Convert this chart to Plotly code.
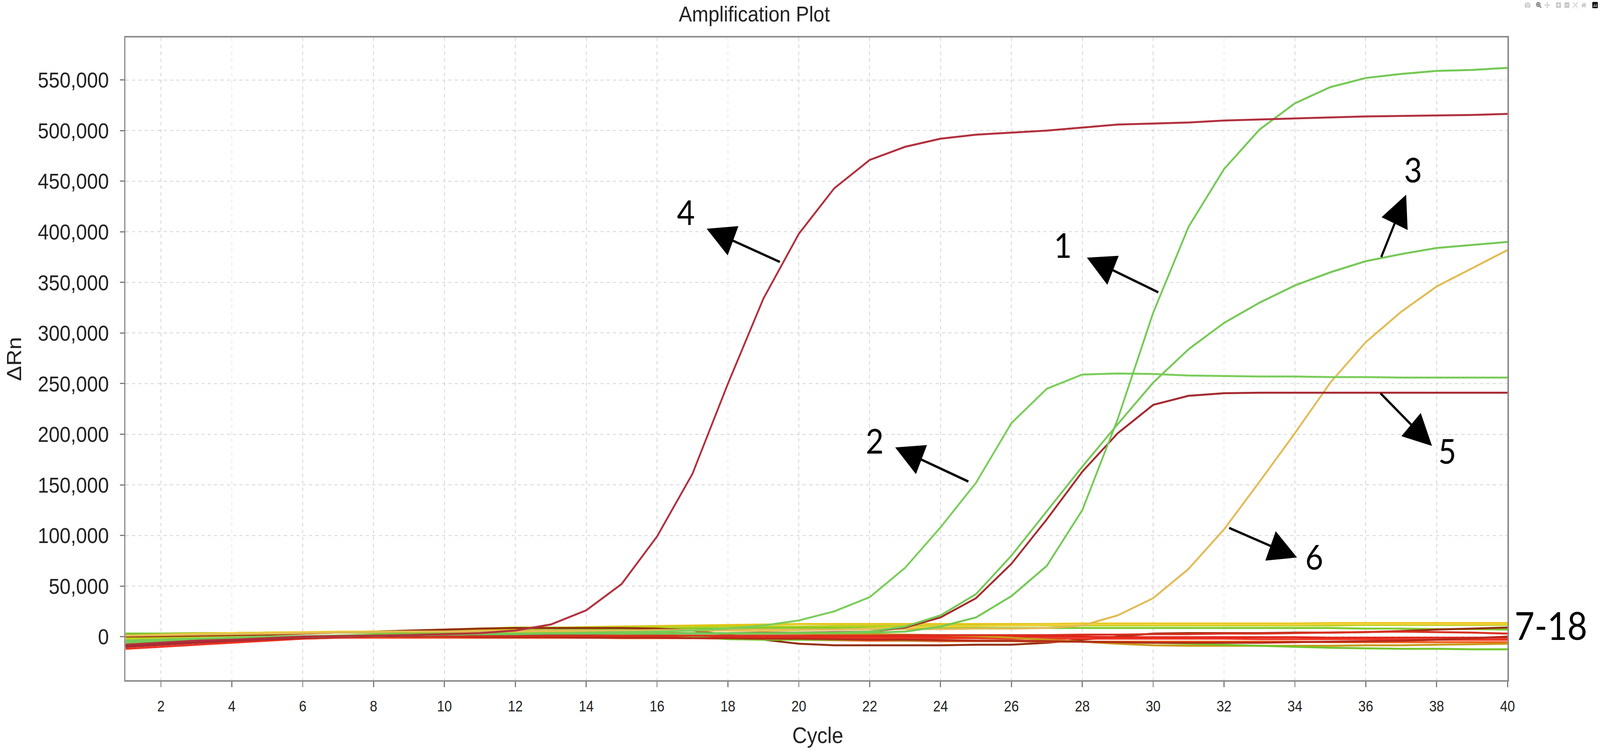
import plotly.graph_objects as go

# cycle numbers
cycles = list(range(1, 41))

# delta Rn, in thousands
# amplified samples 1-6
sample_1 = [-6.0, -4.5, -3.0, -2.0, -1.0, 0.0, 0.5, 1.0, 1.5, 2.0, 2.5, 3.0, 3.0, 3.0, 3.0, 3.0, 3.0, 3.0, 3.0, 3.5,
            3.5, 4.0, 5.0, 10.0, 19.0, 40.0, 70.0, 125.0, 215.0, 320.0, 405.0, 462.0, 501.0, 527.0, 543.0, 552.0, 556.0, 559.0, 560.0, 562.0]
sample_2 = [-5.0, -4.0, -2.5, -1.5, -0.5, 0.0, 0.5, 1.0, 1.5, 2.0, 2.5, 3.0, 3.5, 4.0, 4.5, 5.0, 6.0, 8.0, 11.0, 16.0,
            25.0, 39.0, 68.0, 108.0, 152.0, 211.0, 245.0, 259.0, 260.0, 259.5, 258.0, 257.5, 257.0, 257.0, 256.5, 256.5, 256.0, 256.0, 256.0, 256.0]
sample_3 = [-4.0, -3.0, -2.0, -1.0, 0.0, 0.5, 1.0, 1.5, 2.0, 2.0, 2.5, 2.5, 3.0, 3.0, 3.0, 3.0, 3.5, 3.5, 3.5, 4.0,
            4.0, 5.0, 10.0, 21.0, 42.0, 80.0, 124.0, 168.0, 210.0, 251.0, 284.0, 310.0, 330.0, 347.0, 360.0, 371.0, 378.0, 384.0, 387.0, 390.0]
sample_4 = [-8.0, -6.0, -4.0, -3.0, -1.5, 0.0, 0.5, 1.0, 1.5, 2.5, 3.5, 6.0, 12.0, 26.0, 52.0, 99.0, 161.0, 250.0, 334.0, 398.0,
            443.0, 471.0, 484.0, 492.0, 496.0, 498.0, 500.0, 503.0, 506.0, 507.0, 508.0, 510.0, 511.0, 512.0, 513.0, 514.0, 514.5, 515.0, 515.5, 516.5]
sample_5 = [-10.0, -8.0, -6.0, -4.0, -2.5, -1.0, 0.0, 0.5, 1.0, 1.5, 2.0, 2.0, 2.5, 2.5, 3.0, 3.0, 3.5, 3.5, 4.0, 4.0,
            4.5, 5.0, 9.0, 19.0, 38.0, 72.0, 116.0, 163.0, 201.0, 229.0, 238.0, 240.5, 241.0, 241.0, 241.0, 241.0, 241.0, 241.0, 241.0, 241.0]
sample_6 = [1.0, 1.5, 2.0, 2.5, 3.0, 3.5, 4.0, 4.5, 5.0, 5.0, 5.5, 5.5, 6.0, 6.0, 6.0, 6.5, 6.5, 6.5, 7.0, 7.0,
            7.0, 7.5, 7.5, 7.5, 8.0, 8.0, 8.5, 11.0, 21.0, 38.0, 67.0, 106.0, 153.0, 201.0, 251.0, 291.0, 321.0, 346.0, 364.0, 382.0]

# flat samples 7-18
sample_7 = [1.0, 1.5, 2.0, 2.5, 3.0, 3.5, 4.0, 4.5, 5.0, 5.5, 6.5, 7.5, 8.5, 9.5, 10.0, 10.5, 11.0, 11.5, 12.0, 12.5,
            12.5, 12.5, 12.5, 12.5, 12.5, 12.5, 12.5, 13.0, 13.0, 13.0, 13.0, 13.0, 13.0, 13.0, 13.5, 13.5, 13.5, 13.5, 13.5, 13.5]
sample_8 = [-2.0, -1.0, 0.0, 1.0, 2.0, 3.0, 4.0, 5.0, 6.0, 7.0, 8.0, 9.0, 9.0, 9.0, 9.5, 9.5, 9.5, 10.0, 10.0, 10.0,
            10.5, 10.5, 10.5, 10.5, 11.0, 11.0, 11.0, 11.0, 11.0, 11.0, 11.0, 11.0, 11.0, 11.0, 11.0, 11.5, 11.5, 11.5, 11.5, 11.5]
sample_9 = [-4.0, -3.0, -2.0, -1.5, -0.5, 0.0, 1.0, 2.0, 3.0, 4.0, 5.0, 6.0, 6.5, 7.0, 7.5, 7.5, 8.0, 8.0, 8.5, 8.5,
            8.5, 8.5, 8.5, 8.5, 8.5, 8.5, 8.5, 8.5, 8.5, 8.5, 8.5, 8.5, 8.5, 8.5, 8.5, 8.0, 8.0, 7.5, 7.5, 7.0]
sample_10 = [0.0, 0.5, 1.0, 1.5, 2.0, 3.0, 4.0, 5.0, 6.0, 7.0, 8.0, 8.5, 8.5, 8.5, 8.5, 8.0, 6.0, 2.0, -3.0, -7.0,
             -8.5, -8.5, -8.5, -8.5, -8.0, -8.0, -6.0, -3.0, 0.0, 3.0, 3.5, 3.5, 3.5, 4.0, 4.0, 4.5, 5.5, 7.0, 8.0, 9.0]
sample_11 = [-9.0, -7.5, -6.0, -4.5, -3.0, -1.5, -0.5, 0.0, 0.0, 0.0, 0.0, 0.0, 0.0, 0.0, 0.0, 0.0, 0.0, 0.0, 0.0, 0.0,
             0.0, 0.0, 0.0, 0.0, 0.0, 0.0, 0.0, 0.0, -0.5, -0.5, -0.5, -0.5, -0.5, -0.5, -1.0, -1.0, -1.0, -1.0, -1.0, -1.0]
sample_12 = [-12.0, -10.0, -8.0, -6.0, -4.0, -2.0, -1.0, -1.0, -1.0, -1.0, -1.0, -1.0, -1.0, -1.0, -1.0, -1.0, -1.5, -1.5, -1.5, -1.5,
             -1.5, -1.5, -1.5, -1.5, -1.5, -2.0, -2.0, -2.0, -2.0, -2.0, -2.0, -2.0, -2.5, -2.5, -2.5, -2.5, -3.0, -3.0, -3.0, -3.0]
sample_13 = [-5.5, -4.5, -3.5, -2.5, -1.5, -1.0, -0.5, -0.5, -0.5, -0.5, -1.0, -1.0, -1.0, -1.0, -1.5, -1.5, -1.5, -2.0, -2.5, -3.0,
             -3.5, -4.0, -4.0, -4.5, -4.5, -4.5, -5.0, -5.0, -5.0, -5.0, -5.0, -5.0, -5.0, -5.0, -5.5, -5.5, -5.5, -5.5, -5.5, -5.5]
sample_14 = [2.0, 2.5, 3.0, 3.5, 4.0, 4.0, 4.0, 4.0, 4.0, 4.0, 4.0, 4.0, 4.0, 4.0, 4.0, 3.5, 3.5, 3.0, 3.0, 3.0,
             2.5, 2.5, 2.0, 1.5, 0.5, -1.0, -3.0, -5.0, -7.0, -8.5, -9.0, -9.0, -9.0, -9.0, -9.0, -8.5, -8.5, -8.0, -7.5, -7.0]
sample_15 = [3.0, 3.0, 3.5, 3.5, 4.0, 4.0, 4.0, 4.0, 4.0, 4.0, 4.0, 3.5, 3.5, 3.0, 3.0, 2.5, 0.0, -2.5, -3.0, -3.0,
             -3.0, -3.0, -3.5, -3.5, -4.0, -4.0, -4.5, -5.0, -5.5, -6.0, -7.0, -8.0, -9.0, -10.0, -11.0, -11.5, -12.0, -12.0, -12.5, -12.5]
sample_16 = [-8.0, -6.5, -5.0, -3.5, -2.0, -1.0, -0.5, 0.0, 0.0, 0.0, -0.5, -0.5, -0.5, -1.0, -1.0, -1.0, -1.5, -1.5, -2.0, -2.0,
             -2.5, -3.0, -3.0, -3.5, -4.0, -4.0, -4.5, -5.0, -5.5, -6.0, -6.0, -6.0, -6.0, -5.5, -5.0, -4.5, -4.0, -3.0, -1.5, 0.0]
sample_17 = [-10.0, -8.0, -6.0, -4.5, -3.0, -2.0, -1.0, 0.0, 0.5, 0.5, 0.5, 1.0, 1.0, 1.0, 1.0, 1.0, 1.0, 1.0, 1.0, 1.0,
             1.0, 1.0, 1.5, 1.5, 1.5, 1.5, 1.5, 2.0, 2.0, 2.5, 2.5, 3.0, 3.0, 3.5, 4.0, 4.5, 5.0, 4.5, 4.0, 3.0]
sample_18 = [1.0, 2.0, 3.0, 3.5, 4.0, 4.5, 5.0, 5.0, 5.0, 5.0, 5.0, 5.0, 5.5, 5.5, 5.5, 5.5, 6.0, 6.0, 6.0, 6.5,
             7.0, 8.0, 9.0, 10.0, 10.5, 11.0, 11.5, 12.0, 12.0, 12.0, 12.0, 12.0, 12.0, 12.0, 12.5, 12.5, 12.5, 12.5, 12.5, 12.5]

y_ticks = [0, 50000, 100000, 150000, 200000, 250000, 300000, 350000, 400000, 450000, 500000, 550000]
x_ticks = list(range(2, 41, 2))

W, H = 4550, 1930

flat = [
    (sample_7, "#e5c417"), (sample_8, "#b9d11c"), (sample_9, "#7fcb2c"), (sample_10, "#93300f"),
    (sample_11, "#e2241a"), (sample_12, "#ee3322"), (sample_13, "#f0601c"), (sample_14, "#c99a18"),
    (sample_15, "#74c52a"), (sample_16, "#b52a1c"), (sample_17, "#d93020"), (sample_18, "#f1cf3a"),
]
amplified = [
    (sample_6, "#e2bb55"), (sample_5, "#a52a30"), (sample_3, "#76c856"),
    (sample_2, "#7bcd5a"), (sample_1, "#74c954"), (sample_4, "#b2303e"),
]

fig = go.Figure()
for vals, col in flat + amplified:
    fig.add_trace(go.Scatter(x=cycles, y=[v * 1000 for v in vals], mode="lines",
                             line=dict(color=col, width=5), showlegend=False))

# labels: (text, x, y) and arrows: (head x, head y, tail x, tail y), in data units
labels = [("1", 27.45, 387500), ("2", 22.14, 194000), ("3", 37.34, 462000),
          ("4", 16.81, 419700), ("5", 38.30, 183800), ("6", 34.55, 79300)]
arrows = [(28.13, 374500, 30.16, 340000), (22.72, 187000, 24.80, 153000),
          (37.14, 436700, 36.43, 374500), (17.40, 403000, 19.48, 370000),
          (37.87, 188400, 36.40, 241000), (34.06, 78200, 32.13, 107700)]

for txt, lx, ly in labels:
    fig.add_annotation(x=lx, y=ly, text=txt, showarrow=False,
                       font=dict(family="Lato", size=88, color="black"))
for hx, hy, tx, ty in arrows:
    fig.add_annotation(x=hx, y=hy, ax=tx, ay=ty, axref="x", ayref="y", text="",
                       showarrow=True, arrowhead=2, arrowsize=2.7, arrowwidth=6,
                       arrowcolor="black", standoff=0, startstandoff=0)

fig.add_annotation(x=1.0313, y=0.086, xref="paper", yref="paper", text="7-18", showarrow=False,
                   xanchor="center", yanchor="middle",
                   font=dict(family="Lato", size=98, color="black"))
fig.add_annotation(x=-0.0807, y=0.5, xref="paper", yref="paper", text="ΔRn", textangle=-90,
                   xanchor="center", yanchor="middle", showarrow=False,
                   font=dict(family="Liberation Sans", size=58, color="#222222"))
fig.add_annotation(x=0.5008, y=-0.0857, xref="paper", yref="paper", text="Cycle",
                   xanchor="center", yanchor="middle", showarrow=False,
                   font=dict(family="Liberation Sans", size=58, color="#222222"))

fig.update_layout(
    width=W, height=H,
    margin=dict(l=357, r=263, t=96, b=189),
    paper_bgcolor="white", plot_bgcolor="white",
    title=dict(text="Amplification Plot", x=0.455, xref="paper", y=1 - 35 / H, yref="container",
               xanchor="center", yanchor="middle",
               font=dict(family="Liberation Sans", size=56, color="#222222")),
)
fig.update_xaxes(range=[1, 40], tickvals=x_ticks, ticks="outside", ticklen=14, tickwidth=3,
                 tickcolor="#7a7a7a", ticklabelstandoff=16,
                 tickfont=dict(family="Liberation Sans", size=38, color="#222222"),
                 showline=True, linecolor="#8c8c8c", linewidth=4, mirror=True,
                 showgrid=True, gridcolor="#d4d4d4", gridwidth=2, griddash="dash", zeroline=False)
fig.update_yaxes(range=[-43000, 592000], tickvals=y_ticks, tickformat=",d", ticks="outside",
                 ticklen=12, tickwidth=3, tickcolor="#7a7a7a", ticklabelstandoff=20,
                 tickfont=dict(family="Liberation Sans", size=56, color="#222222"),
                 showline=True, linecolor="#8c8c8c", linewidth=4, mirror=True,
                 showgrid=True, gridcolor="#d4d4d4", gridwidth=2, griddash="dash", zeroline=False)

# the window's css size may differ from the figure: stretch the figure to fill it exactly
fit_js = """
var gd = document.getElementById('{plot_id}');
document.documentElement.style.overflow = 'hidden';
document.body.style.margin = '0';
document.body.style.overflow = 'hidden';
var vw = window.innerWidth, vh = window.innerHeight;
var sx = vw / %d, sy = vh / %d;
if (Math.abs(sx - 1) > 0.002 || Math.abs(sy - 1) > 0.002) {
  gd.style.transformOrigin = '0 0';
  gd.style.transform = 'scale(' + sx + ',' + sy + ')';
  var box = gd.parentElement;
  box.style.width = vw + 'px';
  box.style.height = vh + 'px';
  box.style.overflow = 'hidden';
}
""" % (W, H)

fig.write_html("out.html", post_script=fit_js)
